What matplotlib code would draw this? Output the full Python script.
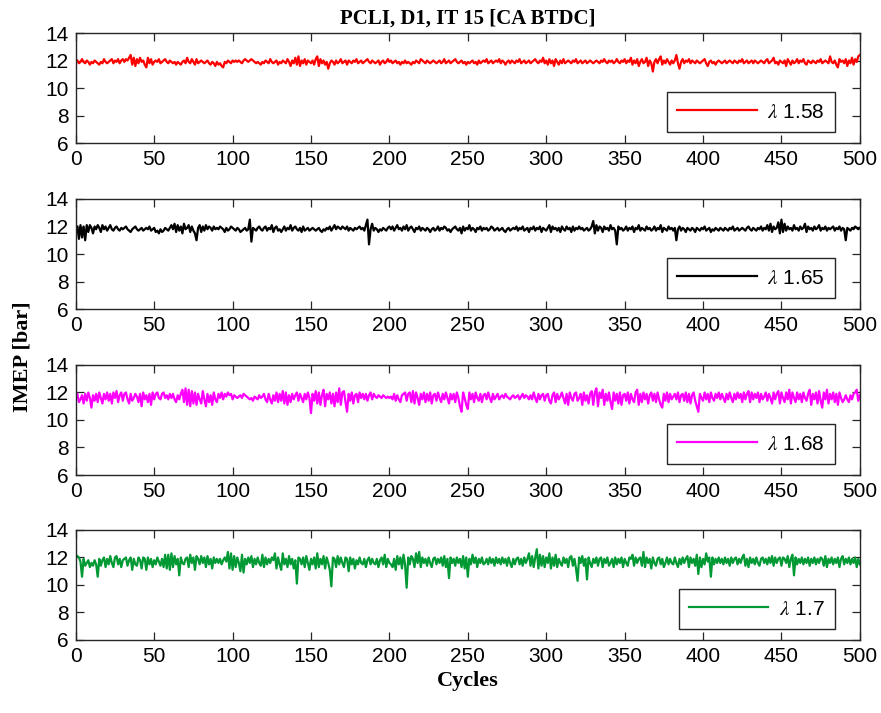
import numpy as np
import matplotlib
matplotlib.use("Agg")
import matplotlib.pyplot as plt

# IMEP per cycle [bar], one list per lambda
imep_158 = [
    12.0, 11.8, 11.9, 12.1, 11.9, 11.8, 12.0, 11.9, 11.7, 11.9,
    11.8, 12.0, 11.9, 11.8, 11.7, 11.9, 11.8, 12.1, 11.9, 11.8,
    11.9, 12.0, 12.1, 11.8, 12.0, 11.9, 12.1, 11.8, 12.0, 12.1,
    11.9, 12.1, 12.0, 12.2, 12.4, 11.7, 12.2, 11.6, 12.1, 11.8,
    12.2, 11.9, 12.0, 11.7, 11.5, 12.2, 11.8, 12.1, 11.7, 11.9,
    12.0, 11.9, 12.1, 11.8, 11.9, 12.0, 12.1, 11.9, 11.8, 12.0,
    11.9, 11.8, 11.9, 11.7, 11.9, 11.8, 11.7, 11.9, 12.0, 11.8,
    12.2, 11.9, 11.8, 12.1, 11.9, 11.7, 12.1, 11.8, 11.9, 12.0,
    11.9, 11.8, 11.9, 12.0, 11.8, 11.7, 11.9, 11.8, 11.6, 11.9,
    11.7, 11.8, 11.6, 11.5, 11.9, 11.8, 12.0, 11.9, 11.8, 12.0,
    11.9, 12.0, 11.9, 12.0, 11.9, 11.8, 12.0, 12.1, 12.0, 11.9,
    12.0, 12.1, 12.0, 11.9, 11.8, 11.9, 11.8, 11.7, 11.9, 11.8,
    12.0, 11.9, 11.8, 12.1, 11.9, 11.8, 11.9, 12.0, 11.7, 11.9,
    11.8, 12.0, 11.9, 11.8, 12.1, 11.9, 11.6, 12.0, 11.8, 12.2,
    11.7, 12.3, 11.6, 12.0, 11.8, 12.1, 11.7, 12.0, 11.9, 11.8,
    12.0, 11.7, 12.1, 12.3, 11.6, 12.1, 11.8, 12.0, 11.7, 11.9,
    11.4, 11.8, 12.0, 11.9, 11.7, 12.0, 11.8, 11.9, 12.1, 11.8,
    11.9, 12.0, 11.7, 12.0, 11.9, 11.8, 12.0, 11.9, 12.1, 11.8,
    11.9, 12.0, 11.8, 11.9, 12.0, 12.1, 11.9, 11.8, 12.0, 11.9,
    11.8, 11.9, 12.0, 11.7, 11.9, 12.0, 11.8, 11.9, 12.1, 11.9,
    12.0, 11.8, 11.9, 12.0, 11.8, 11.9, 11.7, 11.9, 11.8, 12.0,
    11.8, 11.9, 11.8, 11.7, 11.9, 11.8, 12.0, 11.9, 11.8, 12.1,
    12.0, 11.9, 11.8, 12.0, 11.9, 11.8, 11.9, 12.0, 11.9, 11.8,
    11.9, 12.0, 11.8, 11.9, 12.1, 11.8, 11.9, 12.0, 11.8, 11.9,
    12.0, 12.1, 11.9, 11.8, 11.9, 12.0, 11.8, 11.9, 11.7, 11.9,
    11.8, 11.9, 12.0, 11.8, 11.9, 11.7, 12.0, 11.8, 11.9, 12.0,
    11.9, 12.1, 11.8, 11.9, 12.0, 11.8, 11.9, 12.0, 11.9, 12.1,
    11.8, 12.0, 11.9, 11.7, 11.9, 12.0, 11.8, 12.0, 11.9, 11.8,
    12.0, 11.9, 12.1, 11.8, 11.9, 12.0, 11.8, 11.9, 12.0, 11.8,
    11.9, 12.0, 12.1, 11.9, 11.8, 12.0, 11.9, 12.2, 11.8, 12.0,
    11.7, 12.1, 11.8, 12.0, 11.6, 12.1, 11.9, 11.7, 12.0, 11.8,
    12.1, 11.8, 11.9, 12.0, 11.9, 11.8, 12.0, 11.9, 12.1, 11.8,
    11.9, 12.0, 11.8, 11.9, 12.0, 11.8, 11.9, 12.0, 11.9, 11.8,
    11.9, 12.0, 11.9, 11.8, 12.0, 11.9, 12.1, 11.9, 11.8, 12.0,
    11.9, 12.0, 11.8, 11.9, 12.1, 11.9, 11.8, 12.0, 11.9, 12.1,
    11.8, 12.0, 11.9, 12.2, 11.7, 12.0, 11.8, 12.1, 11.6, 11.9,
    12.1, 11.8, 11.9, 12.2, 11.6, 12.0, 11.8, 11.2, 11.9, 12.1,
    11.8, 12.1, 12.3, 11.7, 12.0, 11.8, 12.1, 11.9, 11.7, 12.0,
    11.8, 12.0, 12.4, 11.8, 11.4, 11.9, 12.1, 11.8, 12.0, 11.9,
    12.1, 11.8, 12.0, 11.9, 11.8, 12.0, 11.9, 11.8, 11.9, 12.0,
    12.1, 11.8, 11.6, 11.9, 12.0, 11.8, 11.9, 11.7, 11.9, 12.0,
    11.9, 11.8, 11.9, 12.0, 11.8, 11.9, 12.0, 11.9, 11.8, 12.0,
    11.9, 11.8, 12.0, 11.9, 12.1, 11.8, 11.9, 12.0, 11.8, 11.9,
    12.0, 11.8, 12.0, 11.9, 11.8, 11.9, 12.0, 11.9, 11.8, 12.0,
    12.1, 11.8, 11.9, 12.0, 12.2, 11.8, 11.9, 11.7, 12.0, 11.9,
    11.8, 12.0, 11.6, 12.1, 11.9, 11.7, 12.0, 11.8, 11.9, 12.1,
    11.8, 12.0, 11.9, 12.1, 11.8, 11.7, 12.0, 11.9, 11.8, 12.0,
    11.9, 11.8, 12.0, 11.9, 12.1, 11.8, 11.9, 12.0, 11.9, 11.8,
    12.3, 11.9, 11.8, 12.0, 11.7, 11.5, 12.1, 11.9, 12.0, 11.8,
    12.1, 11.6, 12.0, 11.8, 12.2, 11.7, 12.1, 11.9, 12.3, 12.4,
]

imep_165 = [
    12.0, 11.1, 12.1, 11.2, 12.0, 11.0, 12.1, 11.6, 12.1, 11.9,
    11.5, 12.0, 11.8, 12.1, 11.9, 11.6, 12.1, 11.8, 12.0, 11.7,
    11.9, 12.1, 11.8, 11.7, 11.9, 12.0, 11.8, 11.7, 11.9, 11.8,
    11.9, 12.0, 11.8, 11.7, 11.6, 11.8, 11.9, 12.0, 11.8, 11.7,
    11.8, 11.9, 11.7, 11.8, 11.9, 11.8, 12.0, 11.7, 11.8, 11.9,
    11.6, 11.7, 11.5, 11.8, 11.6, 11.7, 11.9, 11.8, 11.7, 11.9,
    12.1, 11.8, 12.2, 11.6, 12.1, 11.7, 12.0, 11.5, 12.2, 11.8,
    11.9, 12.1, 11.6, 12.0, 11.7, 11.5, 11.0, 11.9, 12.1, 11.6,
    12.0, 11.7, 12.1, 11.8, 12.0, 11.9, 11.7, 12.0, 11.8, 11.9,
    11.8, 12.0, 11.9, 11.8, 11.6, 11.9, 11.7, 11.8, 12.0, 11.9,
    11.8, 11.7, 11.9, 11.8, 11.6, 11.7, 11.8, 11.9, 11.7, 11.8,
    12.5, 10.9, 11.9, 11.8, 11.7, 11.9, 12.0, 11.8, 11.7, 11.9,
    12.0, 11.7, 11.9, 11.8, 12.1, 11.6, 11.9, 12.0, 11.7, 11.8,
    11.6, 11.8, 12.0, 11.7, 11.9, 11.8, 12.1, 11.7, 11.9, 12.0,
    11.8, 11.7, 11.9, 11.6, 12.0, 11.7, 11.8, 11.9, 11.7, 11.8,
    11.9, 11.8, 11.7, 11.8, 11.9, 11.7, 11.6, 11.8, 11.7, 11.9,
    11.8, 12.0, 11.7, 11.9, 12.1, 11.8, 12.0, 11.9, 11.8, 12.0,
    11.9, 11.8, 12.0, 11.7, 11.9, 11.8, 11.7, 11.9, 11.8, 11.9,
    12.0, 11.8, 11.9, 11.7, 12.1, 12.5, 10.7, 11.8, 12.2, 11.7,
    11.9, 11.8, 11.6, 11.8, 11.7, 11.9, 11.8, 11.7, 11.9, 12.0,
    11.8, 12.0, 11.7, 11.9, 12.1, 11.8, 11.9, 11.7, 12.0, 11.8,
    12.1, 11.7, 11.9, 12.0, 11.8, 11.6, 11.9, 11.8, 12.0, 11.7,
    11.9, 11.8, 11.7, 11.9, 11.8, 11.6, 11.8, 11.9, 11.7, 11.8,
    12.0, 11.7, 11.9, 11.8, 12.0, 11.9, 11.7, 11.8, 11.6, 11.8,
    11.9, 12.0, 11.8, 11.7, 11.9, 11.5, 12.0, 11.7, 11.9, 11.8,
    12.1, 11.7, 11.9, 11.8, 11.6, 11.9, 11.8, 12.0, 11.7, 11.9,
    11.8, 11.9, 11.7, 11.8, 12.0, 11.9, 11.7, 11.8, 11.9, 11.7,
    11.8, 11.9, 11.7, 11.6, 11.8, 11.9, 11.7, 11.8, 11.9, 11.8,
    12.0, 11.7, 11.9, 11.8, 12.0, 11.7, 11.8, 11.9, 11.6, 11.9,
    11.8, 12.0, 11.7, 11.9, 11.8, 12.0, 11.6, 11.9, 11.8, 11.7,
    11.9, 12.1, 11.6, 12.0, 11.8, 11.9, 11.7, 11.9, 11.6, 12.0,
    11.8, 11.7, 12.0, 11.8, 11.9, 11.6, 12.0, 11.7, 11.9, 11.8,
    12.0, 11.8, 11.9, 11.7, 11.8, 11.9, 11.7, 11.8, 12.0, 12.4,
    11.5, 12.1, 11.7, 12.0, 11.9, 11.6, 12.0, 11.8, 11.9, 11.7,
    12.1, 11.8, 11.9, 11.7, 10.7, 12.0, 11.8, 11.9, 11.7, 11.8,
    12.0, 11.7, 11.9, 11.8, 12.0, 11.6, 11.9, 11.8, 12.1, 11.7,
    11.9, 11.8, 11.7, 12.0, 11.8, 11.9, 11.7, 11.8, 12.0, 11.7,
    11.9, 11.8, 12.1, 11.6, 11.9, 11.8, 11.7, 12.0, 11.8, 11.9,
    11.7, 11.9, 11.0, 11.8, 12.0, 11.7, 11.9, 11.8, 11.6, 11.9,
    11.8, 11.7, 11.9, 11.8, 11.6, 11.9, 11.8, 11.7, 11.9, 11.8,
    12.0, 11.7, 11.8, 11.9, 11.6, 11.8, 11.7, 11.9, 11.8, 11.7,
    11.9, 11.8, 11.7, 11.9, 11.8, 11.7, 11.9, 11.8, 12.0, 11.7,
    11.8, 11.9, 11.7, 11.8, 11.9, 11.8, 11.7, 11.9, 12.0, 11.8,
    11.7, 11.9, 11.8, 11.7, 11.9, 11.8, 12.0, 11.7, 11.9, 11.8,
    12.1, 11.7, 12.2, 11.6, 12.0, 11.8, 11.9, 12.3, 11.5, 12.5,
    11.6, 12.2, 11.7, 12.0, 11.8, 11.9, 11.7, 12.1, 11.8, 11.9,
    11.7, 12.0, 11.8, 11.9, 12.2, 11.6, 12.0, 11.8, 11.9, 11.7,
    12.0, 11.8, 11.9, 12.1, 11.7, 11.9, 11.8, 12.0, 11.7, 11.9,
    11.8, 11.9, 12.0, 11.7, 11.9, 11.8, 12.0, 11.7, 11.9, 11.8,
    11.0, 11.9, 11.8, 11.7, 11.9, 11.8, 12.0, 11.9, 11.8, 11.9,
]

imep_168 = [
    11.9, 11.3, 11.5, 11.8, 11.2, 11.9, 11.4, 12.0, 11.6, 10.9,
    11.8, 11.4, 11.9, 11.3, 12.0, 11.6, 11.2, 11.9, 11.5, 12.0,
    11.4, 11.9, 11.2, 12.0, 11.6, 12.1, 11.3, 11.8, 12.0, 11.4,
    11.9, 12.0, 11.5, 11.2, 11.9, 11.4, 11.6, 11.9, 11.7, 11.3,
    11.9, 11.0, 12.0, 11.5, 11.8, 11.3, 11.9, 11.1, 12.0, 11.5,
    11.9, 12.0, 11.6, 11.5, 11.9, 12.0, 11.6, 11.8, 11.5, 11.9,
    11.6, 11.9, 11.5, 11.3, 11.8, 11.5, 11.9, 12.2, 11.3, 12.3,
    11.1, 12.2, 11.0, 12.1, 11.2, 12.0, 11.1, 11.9, 11.5, 11.2,
    12.1, 11.5, 11.0, 11.9, 11.3, 11.8, 11.1, 12.0, 11.5, 11.3,
    11.9, 11.6, 12.0, 11.5, 11.9, 11.7, 12.0, 11.8, 11.9, 11.5,
    11.8, 11.7, 11.6, 11.7, 11.8, 11.6, 11.9, 11.8, 11.7, 11.6,
    11.5, 11.6, 11.4, 11.7, 11.6, 11.5, 11.8, 11.6, 11.7, 11.9,
    11.5, 11.3, 11.9, 11.5, 11.2, 11.8, 11.4, 12.0, 11.3, 11.9,
    11.4, 12.1, 11.2, 12.0, 11.1, 11.8, 11.3, 11.9, 11.5, 11.8,
    12.0, 11.4, 11.9, 11.6, 11.3, 11.9, 11.5, 12.0, 11.6, 10.5,
    11.9, 11.4, 12.1, 11.2, 12.0, 11.1, 11.8, 12.2, 11.0, 11.9,
    11.5, 12.0, 11.2, 11.9, 11.0, 12.0, 11.3, 12.3, 11.1, 12.0,
    12.1, 11.3, 10.6, 11.9, 11.4, 12.0, 11.2, 11.8, 11.9, 11.3,
    12.0, 11.6, 11.9, 11.5, 11.9, 11.4, 11.8, 12.0, 11.5, 11.9,
    11.7, 11.6, 11.8, 11.7, 11.6, 11.8, 11.7, 11.6, 11.7, 11.6,
    11.7, 11.5, 11.9, 11.4, 11.8, 11.5, 11.3, 11.8, 11.9, 12.0,
    11.4, 11.9, 12.0, 11.3, 12.1, 11.2, 12.0, 11.6, 11.1, 11.9,
    11.5, 12.0, 11.3, 11.9, 11.4, 12.0, 11.2, 11.8, 11.9, 11.4,
    12.0, 11.6, 11.3, 11.9, 11.5, 12.0, 11.6, 11.2, 11.9, 11.5,
    11.9, 11.3, 12.0, 11.6, 11.0, 10.6, 12.0, 11.6, 11.1, 10.8,
    12.0, 11.5, 11.9, 11.3, 12.0, 11.6, 11.4, 11.9, 11.3, 11.8,
    11.9, 11.5, 12.0, 11.6, 11.3, 11.9, 11.5, 11.7, 11.9, 11.5,
    11.7, 11.8, 11.6, 11.9, 11.7, 11.6, 11.5, 11.7, 11.8, 11.6,
    11.7, 11.8, 11.5, 11.7, 11.9, 11.6, 11.8, 11.7, 11.5, 11.8,
    11.5, 12.0, 11.6, 11.3, 11.9, 11.5, 11.8, 11.9, 11.4, 11.8,
    11.9, 11.4, 11.2, 11.8, 12.0, 11.3, 11.9, 11.5, 11.7, 12.0,
    11.6, 11.2, 11.9, 11.1, 12.0, 11.6, 11.4, 11.9, 12.0, 11.4,
    11.6, 11.9, 11.1, 12.0, 11.4, 11.8, 11.2, 11.9, 12.1, 11.1,
    12.0, 12.3, 11.0, 12.0, 11.6, 12.2, 11.1, 11.9, 11.4, 12.0,
    11.3, 10.8, 12.0, 11.4, 11.9, 11.2, 12.0, 11.1, 11.8, 11.9,
    11.4, 12.0, 11.2, 11.9, 11.5, 11.3, 12.0, 12.2, 11.1, 11.9,
    11.3, 12.0, 11.5, 11.9, 11.2, 11.8, 12.0, 11.4, 11.9, 11.3,
    12.0, 11.5, 11.1, 10.9, 11.9, 11.4, 12.0, 11.3, 11.9, 11.5,
    11.7, 11.9, 11.5, 12.0, 11.3, 11.8, 11.9, 11.4, 12.0, 11.3,
    11.9, 11.2, 11.8, 12.0, 11.4, 11.0, 10.6, 11.9, 11.6, 11.4,
    12.0, 11.5, 11.9, 11.3, 12.0, 11.6, 11.4, 11.9, 11.6, 12.0,
    11.5, 11.9, 11.6, 11.3, 11.9, 11.5, 12.0, 11.6, 11.3, 11.9,
    11.5, 12.0, 11.6, 11.9, 11.3, 12.0, 11.5, 11.9, 12.1, 11.3,
    12.0, 11.5, 11.9, 11.6, 12.0, 11.3, 11.9, 11.5, 11.7, 12.0,
    11.4, 11.9, 11.6, 11.2, 12.0, 11.5, 11.9, 12.1, 11.2, 12.0,
    11.6, 11.3, 12.0, 11.5, 12.2, 11.2, 12.0, 11.6, 11.3, 12.0,
    11.5, 11.9, 11.3, 12.0, 11.6, 11.4, 11.9, 12.2, 11.1, 11.9,
    11.5, 12.0, 11.2, 12.1, 11.4, 10.9, 12.0, 11.5, 12.2, 11.2,
    11.9, 11.5, 12.0, 11.3, 11.9, 11.1, 12.0, 11.6, 11.3, 11.5,
    11.8, 11.5, 11.3, 11.8, 11.5, 11.9, 12.0, 12.2, 11.4, 11.8,
]

imep_170 = [
    12.1, 12.0, 11.7, 10.6, 11.9, 11.4, 11.6, 11.8, 11.3, 11.6,
    11.4, 11.8, 11.5, 10.6, 11.9, 11.4, 11.8, 12.0, 11.3, 11.9,
    11.5, 12.1, 11.6, 11.3, 12.0, 12.1, 11.5, 11.9, 11.3, 11.8,
    11.9, 12.0, 11.4, 11.8, 12.0, 11.1, 11.9, 11.5, 11.4, 12.0,
    11.8, 11.2, 12.0, 11.9, 11.1, 12.0, 11.5, 11.9, 11.3, 11.8,
    11.5, 12.0, 11.7, 11.4, 11.9, 11.3, 12.2, 11.2, 12.2, 11.1,
    12.3, 11.3, 12.1, 11.5, 11.9, 10.7, 12.0, 11.6, 11.5, 11.9,
    12.0, 11.3, 12.2, 11.6, 12.0, 11.1, 12.1, 11.9, 11.5, 12.1,
    11.6, 12.0, 11.3, 12.1, 11.5, 11.9, 11.2, 12.0, 11.6, 11.9,
    11.6, 11.9, 11.5, 11.8, 12.0, 11.7, 12.4, 11.2, 12.3, 11.1,
    12.1, 11.3, 12.0, 11.6, 11.0, 12.2, 10.9, 11.9, 11.5, 12.0,
    11.6, 12.1, 11.3, 11.9, 11.5, 12.0, 11.6, 11.4, 12.2, 11.3,
    12.0, 11.5, 11.9, 11.6, 12.0, 11.8, 12.3, 11.2, 12.0, 11.5,
    11.1, 12.3, 11.5, 11.9, 11.3, 12.1, 11.5, 11.9, 11.2, 11.8,
    10.1, 12.0, 11.9, 11.5, 12.0, 11.3, 12.1, 11.6, 11.1, 11.9,
    11.5, 12.0, 11.2, 12.3, 11.3, 11.9, 11.5, 12.1, 11.2, 12.0,
    11.6, 11.1, 9.9, 12.0, 11.9, 11.3, 12.1, 11.5, 12.0, 11.6,
    11.3, 12.0, 11.9, 11.0, 12.0, 11.5, 11.9, 11.2, 11.8, 11.5,
    12.0, 11.6, 11.5, 11.9, 11.3, 11.8, 12.0, 11.5, 11.9, 11.6,
    11.5, 11.9, 11.3, 11.8, 12.0, 11.5, 12.2, 11.3, 11.9, 11.6,
    11.5, 11.3, 11.9, 11.1, 12.1, 11.5, 12.0, 11.2, 12.2, 11.5,
    9.8, 12.0, 11.5, 12.1, 11.9, 11.3, 12.3, 11.6, 12.4, 11.3,
    12.0, 11.6, 11.9, 11.4, 12.0, 11.6, 11.3, 11.9, 12.0, 11.5,
    11.9, 11.6, 12.0, 11.4, 12.1, 11.3, 11.9, 10.5, 12.0, 11.6,
    11.9, 11.4, 12.0, 11.6, 11.9, 11.3, 12.1, 11.2, 12.0, 10.6,
    11.9, 11.5, 12.2, 11.6, 12.0, 11.3, 11.9, 11.6, 12.0, 11.5,
    11.6, 11.9, 11.5, 12.0, 11.6, 11.9, 11.4, 12.0, 11.6, 11.9,
    11.5, 12.0, 11.6, 11.9, 11.4, 12.0, 11.6, 11.3, 11.9, 11.5,
    11.9, 12.0, 11.5, 11.9, 11.4, 12.0, 11.6, 11.9, 12.3, 11.4,
    12.1, 11.3, 12.0, 12.6, 11.2, 12.2, 11.4, 12.1, 11.3, 12.0,
    11.6, 12.3, 11.2, 12.0, 11.4, 12.2, 11.3, 11.9, 11.6, 11.4,
    12.0, 11.6, 11.9, 11.3, 12.0, 12.1, 11.4, 11.9, 11.2, 10.3,
    12.0, 11.6, 12.1, 11.4, 11.9, 10.4, 12.0, 11.6, 11.3, 11.9,
    11.6, 12.0, 11.4, 11.9, 12.0, 11.3, 11.9, 11.6, 12.0, 11.4,
    11.6, 11.9, 11.3, 12.0, 11.5, 11.9, 11.6, 12.0, 11.3, 11.9,
    11.6, 11.4, 12.0, 11.9, 12.2, 11.4, 12.0, 11.6, 11.9, 12.0,
    11.4, 12.4, 11.3, 12.0, 11.6, 11.9, 11.2, 12.0, 11.6, 11.4,
    11.9, 12.0, 11.5, 11.9, 11.3, 11.6, 12.0, 11.5, 11.9, 11.6,
    11.5, 12.0, 11.6, 11.3, 11.9, 11.5, 12.0, 11.6, 11.9, 12.1,
    11.3, 12.0, 11.6, 11.9, 11.4, 12.2, 10.8, 12.0, 11.3, 11.9,
    11.5, 12.3, 11.7, 12.0, 10.6, 12.0, 11.5, 11.9, 11.6, 12.0,
    11.6, 11.9, 11.5, 12.0, 11.6, 11.9, 11.4, 12.0, 11.6, 11.9,
    12.0, 11.5, 11.9, 11.6, 12.0, 12.2, 11.4, 11.9, 11.3, 12.0,
    11.6, 11.9, 11.5, 12.0, 11.6, 11.4, 11.9, 12.0, 11.6, 11.9,
    11.5, 12.0, 11.6, 12.1, 11.4, 12.0, 11.6, 11.9, 12.0, 11.4,
    12.0, 11.9, 11.6, 12.1, 11.3, 11.9, 12.2, 10.7, 12.0, 11.5,
    11.9, 11.6, 12.0, 11.5, 11.9, 11.6, 12.0, 11.4, 11.9, 11.6,
    12.0, 11.5, 11.9, 11.6, 12.0, 11.9, 11.4, 12.1, 11.3, 11.9,
    11.6, 12.0, 11.5, 11.9, 11.6, 12.0, 11.3, 11.9, 12.1, 11.5,
    11.9, 11.6, 12.0, 11.5, 11.9, 11.6, 12.0, 11.3, 11.9, 11.5,
]

series = [imep_158, imep_165, imep_168, imep_170]
labels = [r"$\lambda$ 1.58", r"$\lambda$ 1.65", r"$\lambda$ 1.68", r"$\lambda$ 1.7"]
colors = ["#ff0000", "#000000", "#ff00ff", "#009933"]
x_ticks = [0, 50, 100, 150, 200, 250, 300, 350, 400, 450, 500]
y_ticks = [6, 8, 10, 12, 14]

plt.rcParams["font.family"] = ["Liberation Sans", "DejaVu Sans"]
plt.rcParams["mathtext.fontset"] = "stix"

fig = plt.figure(figsize=(8.81, 7.13), dpi=100)
edge = "#262626"
bottoms = [0.7994, 0.5666, 0.3338, 0.1024]
axes = []
for i, (vals, lab, col) in enumerate(zip(series, labels, colors)):
    ax = fig.add_axes([0.086, bottoms[i], 0.890, 0.1543])
    cycles = np.arange(1, len(vals) + 1)
    ax.plot(cycles, vals, color=col, lw=1.6, label=lab)
    ax.set_xlim(0, 500)
    ax.set_ylim(6, 14)
    ax.set_xticks(x_ticks)
    ax.set_yticks(y_ticks)
    ax.tick_params(direction="in", top=True, right=True, length=6, width=0.9,
                   labelsize=15, colors=edge, labelcolor="black", pad=5)
    for s in ax.spines.values():
        s.set_color(edge)
        s.set_linewidth(1.0)
    leg = ax.legend(loc="lower right", bbox_to_anchor=(0.968, 0.1), borderaxespad=0,
                    fontsize=15, handlelength=3.8, handletextpad=0.5, fancybox=False,
                    framealpha=1, edgecolor=edge, borderpad=0.5)
    leg.get_frame().set_linewidth(1.0)
    axes.append(ax)

serif_bold = dict(family=["Liberation Serif", "DejaVu Serif"], weight="bold")
axes[0].set_title("PCLI, D1, IT 15 [CA BTDC]", pad=7, fontsize=15, **serif_bold)
axes[3].set_xlabel("Cycles", labelpad=4, fontsize=16, **serif_bold)
fig.text(0.025, 0.5, "IMEP [bar]", rotation=90, ha="center", va="center",
         fontsize=16, **serif_bold)

plt.savefig("out.png", dpi=100)
